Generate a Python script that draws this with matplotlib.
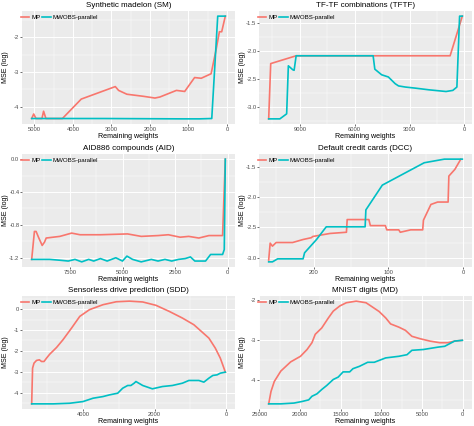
import matplotlib
matplotlib.use("Agg")
import matplotlib.pyplot as plt
from matplotlib.ticker import FixedLocator, MultipleLocator

plt.rcParams['font.family'] = ['Liberation Sans', 'DejaVu Sans']
plt.rcParams['axes.unicode_minus'] = False

RED = "#F8766D"
BLUE = "#00BFC4"

# --- Synthetic madelon (SM)
sm_mp_x = [5071, 5019, 4959, 4805, 4762, 4702, 4273, 3784, 2900, 2814, 2600, 2171, 1870, 1742,
           1313, 1098, 841, 669, 412, 283, 197, 137, 43]
sm_mp_y = [-4.34, -4.21, -4.34, -4.34, -4.13, -4.34, -4.34, -3.78, -3.42, -3.53, -3.64, -3.70,
           -3.75, -3.72, -3.53, -3.56, -3.16, -3.18, -3.05, -2.36, -1.84, -1.84, -1.39]
sm_mw_x = [5071, 3200, 1184, 712, 412, 395, 240, 43]
sm_mw_y = [-4.34, -4.34, -4.35, -4.35, -4.34, -4.34, -1.39, -1.39]

# --- TF-TF combinations (TFTF)
tf_mp_x = [10703, 10592, 9201, 779, 111]
tf_mp_y = [-3.21, -2.22, -2.08, -2.08, -1.37]
tf_mw_x = [10703, 10091, 9720, 9627, 9386, 9312, 9201, 4990, 4897, 4526, 4155, 3784, 3599,
           3228, 2671, 1929, 1002, 631, 408, 260, 111]
tf_mw_y = [-3.21, -3.21, -3.12, -2.26, -2.33, -2.34, -2.08, -2.08, -2.32, -2.42, -2.46, -2.58,
           -2.62, -2.64, -2.66, -2.69, -2.72, -2.70, -2.64, -1.37, -1.37]

# --- AID886 compounds (AID)
aid_mp_x = [9320, 9190, 9110, 8980, 8820, 8710, 8630, 7980, 7420, 7020, 6050, 4760, 4110, 3310,
            2820, 2260, 1850, 1370, 890, 240, 110]
aid_mp_y = [-1.22, -0.88, -0.88, -0.96, -1.05, -1.01, -0.96, -0.94, -0.90, -0.92, -0.92, -0.91,
            -0.94, -0.93, -0.92, -0.95, -0.94, -0.96, -0.93, -0.93, 0.0]
aid_mw_x = [9320, 8470, 7980, 7580, 7260, 6940, 6610, 6370, 6050, 5730, 5320, 5000, 4790, 4520,
            4110, 3630, 3310, 2980, 2660, 2340, 2020, 1770, 1560, 1050, 810, 240, 160, 110]
aid_mw_y = [-1.22, -1.22, -1.23, -1.24, -1.22, -1.25, -1.22, -1.24, -1.21, -1.24, -1.20, -1.24,
            -1.18, -1.22, -1.25, -1.22, -1.24, -1.22, -1.24, -1.22, -1.21, -1.19, -1.24, -1.24,
            -1.16, -1.16, -1.10, 0.0]

# --- Default credit cards (DCC)
dcc_mp_x = [260, 258, 255, 250, 228, 214, 203, 201, 178, 156, 155, 126, 124, 104, 102, 86, 84,
            70, 54, 53, 43, 34, 20, 19, 11, 3]
dcc_mp_y = [-3.04, -2.76, -2.81, -2.75, -2.75, -2.70, -2.67, -2.65, -2.60, -2.58, -2.37, -2.37,
            -2.47, -2.47, -2.54, -2.54, -2.58, -2.54, -2.54, -2.38, -2.12, -2.08, -2.08, -1.65,
            -1.54, -1.37]
dcc_mw_x = [260, 255, 248, 214, 212, 196, 183, 131, 130, 108, 52, 25, 1]
dcc_mw_y = [-3.07, -3.07, -3.02, -3.02, -2.92, -2.70, -2.49, -2.49, -2.21, -1.80, -1.43, -1.37,
            -1.37]

# --- Sensorless drive prediction (SDD)
sdd_mp_x = [5435, 5410, 5370, 5300, 5220, 5160, 5090, 5020, 4930, 4740, 4560, 4320, 4090, 3820,
            3440, 3070, 2700, 2330, 1960, 1590, 1220, 900, 670, 480, 300, 160, 65, 20]
sdd_mp_y = [-4.54, -2.83, -2.59, -2.46, -2.43, -2.51, -2.51, -2.35, -2.16, -1.84, -1.47, -0.91,
            -0.35, -0.03, 0.21, 0.35, 0.38, 0.34, 0.18, -0.11, -0.43, -0.75, -1.10, -1.39,
            -1.87, -2.35, -2.80, -3.02]
sdd_mw_x = [5435, 4830, 4370, 4000, 3860, 3720, 3440, 3260, 3030, 2890, 2750, 2660, 2570, 2520,
            2330, 2060, 1780, 1500, 1220, 1040, 760, 620, 480, 370, 250, 160, 20]
sdd_mw_y = [-4.54, -4.54, -4.51, -4.43, -4.35, -4.27, -4.19, -4.11, -4.03, -3.79, -3.66, -3.66,
            -3.55, -3.47, -3.66, -3.82, -3.71, -3.66, -3.55, -3.42, -3.42, -3.50, -3.31, -3.18,
            -3.15, -3.07, -3.02]

# --- MNIST digits (MD)
md_mp_x = [23860, 23575, 23170, 22370, 21160, 19950, 19140, 18540, 18135, 17330, 16520, 15920,
           15110, 14310, 13100, 11890, 11080, 10280, 9470, 8870, 7860, 7050, 6250, 5240, 4030,
           2820, 1810, 1010, 50]
md_mp_y = [-4.59, -4.28, -4.03, -3.77, -3.54, -3.40, -3.23, -3.06, -2.85, -2.69, -2.44, -2.27,
           -2.14, -2.06, -2.02, -2.06, -2.17, -2.28, -2.44, -2.59, -2.67, -2.75, -2.90, -2.96,
           -3.02, -3.06, -3.06, -3.02, -3.00]
md_mw_x = [23860, 22370, 20750, 19750, 18940, 18540, 17930, 17330, 16720, 15920, 15310, 14710,
           13900, 13500, 12690, 11690, 10880, 9470, 7860, 6850, 6250, 4840, 3020, 2220, 1010, 50]
md_mw_y = [-4.59, -4.59, -4.57, -4.53, -4.49, -4.40, -4.34, -4.23, -4.13, -3.98, -3.92, -3.79,
           -3.79, -3.71, -3.65, -3.55, -3.55, -3.44, -3.40, -3.36, -3.25, -3.23, -3.17, -3.15,
           -3.02, -3.00]

titles = ["Synthetic madelon (SM)", "TF-TF combinations (TFTF)", "AID886 compounds (AID)",
          "Default credit cards (DCC)", "Sensorless drive prediction (SDD)", "MNIST digits (MD)"]
x_breaks = [[0, 1000, 2000, 3000, 4000, 5000], [0, 3000, 6000, 9000], [0, 2500, 5000, 7500],
            [0, 100, 200], [0, 2000, 4000], [0, 5000, 10000, 15000, 20000, 25000]]
y_breaks = [[-4, -3, -2], [-3.0, -2.5, -2.0, -1.5], [-1.2, -0.8, -0.4, 0.0],
            [-3.0, -2.5, -2.0, -1.5], [-4, -3, -2, -1, 0], [-4, -3, -2]]
y_fmt = ["{:.0f}", "{:.1f}", "{:.1f}", "{:.1f}", "{:.0f}", "{:.0f}"]

series = [(sm_mp_x, sm_mp_y, sm_mw_x, sm_mw_y),
          (tf_mp_x, tf_mp_y, tf_mw_x, tf_mw_y),
          (aid_mp_x, aid_mp_y, aid_mw_x, aid_mw_y),
          (dcc_mp_x, dcc_mp_y, dcc_mw_x, dcc_mw_y),
          (sdd_mp_x, sdd_mp_y, sdd_mw_x, sdd_mw_y),
          (md_mp_x, md_mp_y, md_mw_x, md_mw_y)]

W, H = 474, 426
fig = plt.figure(figsize=(W / 100, H / 100), dpi=100)

col_left = [22, 259]
row_top = [11, 154, 296]
pw, ph = 213, 113

for i, (mpx, mpy, mwx, mwy) in enumerate(series):
    r, c = divmod(i, 2)
    ax = fig.add_axes([col_left[c] / W, 1 - (row_top[r] + ph) / H, pw / W, ph / H])
    ax.set_facecolor("#EBEBEB")
    for s in ax.spines.values():
        s.set_visible(False)

    ax.plot(mpx, mpy, color=RED, lw=1.2, label="MP")
    ax.plot(mwx, mwy, color=BLUE, lw=1.2, label="MWOBS-parallel")

    # ggplot-like 5% expansion, reversed x axis
    xs = mpx + mwx
    ys = mpy + mwy
    xr = max(xs) - min(xs)
    yr = max(ys) - min(ys)
    ax.set_xlim(max(xs) + 0.05 * xr, min(xs) - 0.05 * xr)
    ax.set_ylim(min(ys) - 0.05 * yr, max(ys) + 0.05 * yr)

    xb = x_breaks[i]
    yb = y_breaks[i]
    ax.xaxis.set_major_locator(FixedLocator(xb))
    ax.set_xticklabels([str(v) for v in xb])
    ax.yaxis.set_major_locator(FixedLocator(yb))
    ax.set_yticklabels([y_fmt[i].format(v) for v in yb])
    ax.xaxis.set_minor_locator(MultipleLocator((xb[1] - xb[0]) / 2))
    ax.yaxis.set_minor_locator(MultipleLocator((yb[1] - yb[0]) / 2))

    ax.grid(which="major", color="white", lw=0.7)
    ax.grid(which="minor", color="white", lw=0.35)
    ax.set_axisbelow(True)
    ax.tick_params(which="major", direction="out", length=1.3, width=0.5, color="#333333",
                   labelsize=4.2, labelcolor="#4D4D4D", pad=0.6)
    ax.tick_params(which="minor", length=0)

    ax.set_xlabel("Remaining weights", fontsize=5.1)
    ax.set_ylabel("MSE (log)", fontsize=5.1)
    ax.xaxis.set_label_coords(0.5, -0.115)
    ax.xaxis.label.set_va("center")
    ax.yaxis.set_label_coords(-0.076, 0.5)
    ax.yaxis.label.set_va("center")

    ax.text(0.5, 1.047, titles[i], transform=ax.transAxes, ha="center", va="center",
            fontsize=5.8)

    ax.legend(loc="upper left", bbox_to_anchor=(-0.005, 0.97), ncol=2, frameon=False,
              fontsize=4.4, handlelength=1.4, handletextpad=0.3, columnspacing=0.3,
              borderpad=0, borderaxespad=0)

fig.savefig("out.png", dpi=100)
